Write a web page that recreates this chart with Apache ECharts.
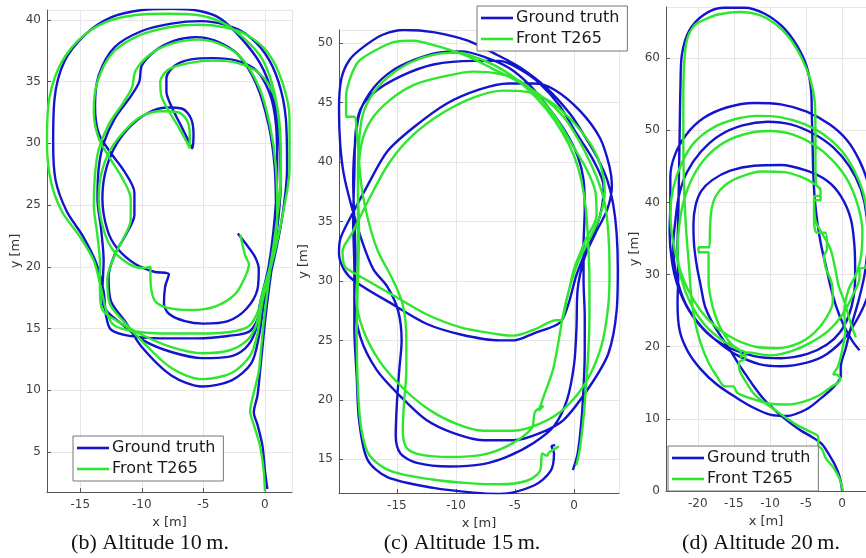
<!DOCTYPE html>
<html>
<head>
<meta charset="utf-8">
<script src="https://cdn.jsdelivr.net/npm/echarts@6/dist/echarts.min.js"></script>
<style>
  html, body { margin: 0; padding: 0; background: #fff; }
  #chart { width: 866px; height: 558px; }
</style>
</head>
<body>
<div id="chart"></div>
<script>
// legend names and captions
const seriesNames = ['Ground truth', 'Front T265'];
const captions = ['(b) Altitude 10\u2009m.', '(c) Altitude 15\u2009m.', '(d) Altitude 20\u2009m.'];

// (b) altitude 10 m, [x, y] in metres
const gtB = [
  [0.2,2.0],[0.0,3.5],[-0.2,5.5],[-0.6,7.2],[-0.9,8.2],[-0.6,9.6],[-0.4,11.5],[-0.2,13.5],[0.0,15.5],
  [0.3,18],[0.7,21],[1.1,24],[1.3,27],[1.1,31],[0.6,34],[-0.4,36.5],[-2,38.6],[-3.6,40.1],[-5.2,40.7],[-7.5,40.9],[-10,40.8],[-12.5,40.2],[-14.6,38.8],[-16.3,36.6],[-17.1,33.5],[-17.2,30],[-17,27],[-16.1,24.5],[-14.8,22.5],[-13.7,20.3],[-13.1,18],[-12.9,16],[-12.5,14.9],[-11,14.4],[-8.5,14.2],[-5.5,14.2],[-3,14.4],[-1.2,14.8],[-0.3,16.5],
  [0.6,20],[1.4,24],[1.8,28],[1.7,32],[1.1,35],[0,37.3],[-1.6,38.9],[-3.2,39.6],[-5.2,39.9],[-7.6,39.7],[-10,39.1],[-12.2,37.8],[-13.5,35.5],[-13.8,33],[-13.5,30.8],[-12.5,29.2],[-11.4,27.7],[-10.6,26],[-10.6,24.2],[-11.3,22.6],[-12.2,21],[-12.7,19.2],[-12.5,17.2],[-11.3,15.5],[-10,13.5],[-7.6,11.2],[-5.1,10.3],[-2.7,10.8],[-1.1,12.2],[-0.5,14.3],[-0.1,17],
  [0.5,20.5],[0.9,24],[0.8,28],[0.3,31.5],[-0.7,34.8],[-2.2,37.2],[-4,38.3],[-5.6,38.6],[-7.4,38.3],[-8.9,37.5],[-10,36.3],[-10.2,35],[-10.9,33.8],[-12.2,32],[-13.1,30],[-13.5,28],[-13.6,25.5],[-13.3,23],[-13.1,20.5],[-13.2,18],[-13.1,16.8],[-11.8,15.5],[-9.8,14],[-7.6,13.1],[-5.1,12.6],[-3,12.7],[-1.6,13.4],[-0.8,14.7],[-0.4,17],
  [0.3,20],[0.8,24],[1.0,28],[0.9,31.5],[0.4,34],[-0.7,35.9],[-2.3,36.7],[-4.2,36.9],[-6,36.8],[-7.3,36.3],[-8,35.3],[-8,34.2],[-7.6,33],[-6.9,31.6],[-6.2,30.2],[-5.9,29.6],[-5.8,30.7],[-6.0,32],[-6.7,32.8],[-8,32.9],[-9.6,32.4],[-11.1,31.2],[-12.3,29.5],[-13.0,27.5],[-13.2,25.5],
  [-12.8,23],[-12.0,21.5],[-10.5,20.2],[-9.0,19.6],[-7.8,19.4],[-8.1,18.4],[-8.2,17],[-7.8,16.2],[-6.5,15.6],[-5,15.4],[-3,15.6],[-1.5,16.6],[-0.6,18.2],[-0.5,19.8],[-0.8,20.8],[-1.5,21.8],[-2.2,22.7]
];
const ftB = [
  [0.0,1.8],[-0.1,3.5],[-0.4,5.5],[-0.9,7.2],[-1.2,8.3],[-0.9,9.8],[-0.5,11.5],[-0.3,13.5],[-0.1,15.5],
  [0.2,18],[0.6,21],[1.0,24],[1.3,27],[1.2,31],[0.8,34],[-0.2,36.8],[-1.8,38.6],[-3.5,39.8],[-5.5,40.4],[-8,40.5],[-10.5,40.4],[-13,39.8],[-15.2,38.3],[-16.8,36],[-17.6,33],[-17.7,30],[-17.4,27],[-16.5,24.5],[-15,22.4],[-13.9,20.5],[-13.3,18.2],[-12.9,16.5],[-12.3,15.3],[-10.8,14.8],[-8.5,14.6],[-5.5,14.6],[-3,14.7],[-1.3,15.2],[-0.4,16.8],
  [0.5,20],[1.4,24],[2.0,28],[2.0,32],[1.4,35],[0.2,37.4],[-1.5,38.8],[-3.3,39.4],[-5.4,39.6],[-7.8,39.4],[-10.3,38.7],[-12.4,37.3],[-13.6,35],[-13.9,32.6],[-13.5,30.4],[-12.6,28.8],[-11.6,27.2],[-10.9,25.5],[-10.9,23.8],[-11.5,22.3],[-12.3,20.7],[-12.8,19],[-12.6,17],[-11.5,15.6],[-10,14],[-7.6,11.8],[-5.1,10.9],[-2.7,11.4],[-1.2,12.8],[-0.6,14.6],[-0.2,17.2],
  [0.6,20.5],[1.0,24],[0.9,28],[0.4,31.5],[-0.5,34.6],[-2,37],[-3.8,38.1],[-5.5,38.4],[-7.5,38.1],[-9.2,37.3],[-10.5,35.9],[-10.8,34.5],[-11.5,33.3],[-12.7,31.5],[-13.5,29.5],[-13.8,27.5],[-13.9,25],[-13.6,22.5],[-13.4,20.3],[-13.4,18],[-13.2,16.5],[-12,15.6],[-10,14.5],[-7.6,13.5],[-5.1,13.0],[-3,13.2],[-1.5,14.0],[-0.7,15.3],[-0.3,17.5],
  [0.4,20],[1.0,24],[1.3,28],[1.2,31.5],[0.7,34],[-0.5,35.7],[-2.2,36.5],[-4.2,36.7],[-6.2,36.5],[-7.8,36],[-8.5,35],[-8.4,33.8],[-7.8,32.6],[-7,31.3],[-6.3,30],[-6.1,29.6],[-6.1,30.6],[-6.3,31.8],[-7.0,32.5],[-8.4,32.6],[-10,32.2],[-11.4,31],[-12.6,29.4],[-13.3,27.5],[-13.5,25.5],
  [-13.1,23],[-12.3,21.3],[-11,20.2],[-10,19.9],[-9.3,20],[-9.3,19.2],[-9.2,18],[-8.9,17.2],[-8,16.7],[-6,16.5],[-4,16.8],[-2.4,17.8],[-1.6,19.2],[-1.3,20.2],[-1.6,20.9],[-2.0,22.6]
];

// (c) altitude 15 m
const gtC = [
  [-0.1,14.1],[0.3,15.5],[0.6,18],[0.8,21],[0.9,24],[0.9,27],[0.8,30],[0.8,33],[0.9,36],[0.8,38.5],[0.3,40.5],[-0.7,42.5],[-2.2,44.6],[-3.8,46.5],[-5.5,47.9],[-7.5,48.8],[-9.5,49.3],[-11.5,49.2],[-13.5,48.6],[-15.5,47.6],[-17,46.2],[-18.1,44.3],[-18.5,42],[-18.7,38.5],[-18.6,35],[-18.5,32],[-18.6,28.5],
  [-18.1,25.3],[-16.7,22.5],[-14.7,20.3],[-12.5,18.3],[-10.2,17.2],[-7.7,16.6],[-5.1,16.6],[-2.9,17.2],[-0.9,18.3],[1.3,21.1],[2.9,23.9],[3.6,27.5],[3.7,31],[3.6,34],[3.3,36.5],[2.8,38.5],[2.0,40.3],[1.0,42],[-0.3,44],[-2.3,46.2],[-4.5,47.9],[-6.5,49],[-9,50.2],[-11.8,50.9],[-14.4,51.1],[-16.2,50.7],[-17.8,49.7],[-19,48.6],[-19.7,47],[-19.9,44.5],[-19.8,41.5],[-19.5,39],
  [-18.9,36.5],[-18.0,33.5],[-17.0,31],[-15.8,29.5],[-14.9,27.5],[-14.6,25],[-14.8,22.5],[-15.0,19.7],[-15.1,17],[-14.7,15.5],[-13.3,14.7],[-10.5,14.4],[-7.7,14.6],[-5.7,15.2],[-3.4,16.4],[-1.7,17.8],[-0.6,20],[0,23],[0.2,26],[0.3,29.3],[0.9,32],
  [1.8,34],[2.8,36],[3.2,38],[3.0,39.6],[2.2,42],[0.5,44.3],[-1.7,46.1],[-3.4,46.6],[-5.6,46.6],[-8,46.1],[-10.8,44.9],[-13.6,42.9],[-15.8,40.9],[-17.5,38],[-18.9,35.4],[-19.8,33.5],[-19.9,32.3],[-19.5,31],[-18.6,30.0],[-15.3,28],[-12.5,26.4],[-9.6,25.5],[-6.3,25],[-5.1,25],[-3.4,25.6],[-1.2,26.5],[-0.5,28],[0.2,30.5],[1.2,33],
  [2.2,35.5],[2.5,37.9],[1.6,40.2],[0.2,42.4],[-1.2,44.7],[-2.9,46.6],[-4.6,47.8],[-6.3,48.5],[-8.5,48.5],[-11.9,48.2],[-14.7,47.2],[-17,45.8],[-18.1,44.4],[-18.5,42.4],[-18.6,39],[-18.7,35],[-18.6,31],[-18.6,26],[-18.4,22],[-18.2,18.3],[-17.5,15],[-15.8,13.5],[-11.9,12.6],[-8.5,12.2],[-6.3,12.1],[-3.4,12.8],[-2.0,14.0],[-1.7,15.5],[-1.9,16.1],[-1.6,16.2]
];
const ftC = [
  [0.2,14.5],[0.5,16],[0.8,18.5],[1.0,21],[1.2,24],[1.3,27],[1.3,30],[1.2,33],[1.0,36],[0.6,38.5],[0,40.5],[-1,42.5],[-2.4,44.5],[-4,46.2],[-5.8,47.6],[-7.8,48.6],[-9.8,49.2],[-12,49.0],[-14,48.3],[-15.8,47.1],[-17.2,45.5],[-18.0,43.5],[-18.3,39],[-18.3,35],[-18.3,32],[-18.4,28.5],
  [-17.9,26],[-16.5,23.3],[-14.5,21],[-12.3,19.2],[-10,18],[-7.7,17.4],[-5.1,17.4],[-2.9,18],[-0.9,19.2],[1.0,21.5],[2.3,24.5],[2.9,28],[3.0,31],[2.9,34],[2.6,36.5],[2.0,38.5],[1.2,40.3],[0.3,42],[-0.9,43.8],[-2.7,45.5],[-4.8,46.8],[-7,47.9],[-9.3,49.0],[-11.8,49.8],[-13.6,50.2],[-15.2,50.1],[-16.8,49.4],[-18.2,48.5],[-18.9,47.2],[-19.3,45.5],[-19.3,43.8],[-18.6,43.8],[-18.4,42.5],
  [-18.0,38],[-17.4,35],[-16.6,32.5],[-15.4,30.2],[-14.5,28],[-14.2,25],[-14.2,22.5],[-14.4,19.7],[-14.5,17.5],[-14.2,16],[-13,15.4],[-10.5,15.2],[-7.7,15.4],[-5.5,16.2],[-3.6,17.6],[-3.3,19],[-2.6,19.5],[-3.0,19.1],[-2.5,20.5],[-1.8,22.5],[-1.3,25],[-1.0,26.8],[-0.5,29],[0.3,31.5],
  [1.3,33.5],[2.2,35.5],[2.6,37.5],[2.3,39.5],[1.4,41.5],[-0.4,43.7],[-2.2,45.2],[-4,45.9],[-6,46.0],[-8.3,45.5],[-11,44.2],[-13.6,42.3],[-15.6,40],[-17.3,37],[-18.8,34],[-19.6,32.5],[-19.4,31.2],[-18.5,30.6],[-15.5,28.9],[-12.5,27.2],[-9.6,26.1],[-6.3,25.5],[-5.1,25.4],[-3.4,25.9],[-1.5,26.7],[-1.1,26.7],[-0.6,28.5],[0,31],[1.0,33.5],
  [1.9,35.5],[1.8,37.5],[1.0,39.5],[-0.2,41.5],[-1.4,43.5],[-3.0,45.5],[-4.6,46.8],[-6.3,47.4],[-8.5,47.6],[-11,47.2],[-13.5,46.5],[-15.6,45.2],[-17.2,43.5],[-18.0,41.5],[-18.3,38],[-18.2,34],[-18.3,30],[-18.4,26],[-18.3,21],[-18.0,17.5],[-17.3,15.3],[-15.5,14.0],[-12,13.3],[-9,13.0],[-6.3,12.9],[-4,13.2],[-2.9,14.0],[-2.7,15.5],[-2.3,15.3],[-2.1,15.6],[-1.6,15.9],[-1.3,16.1]
];

// (d) altitude 20 m
const gtD = [
  [0.0,0.0],[-0.3,1.8],[-0.9,3.4],[-1.8,5.0],[-2.8,6.5],[-4.2,7.5],[-5.6,8.3],[-6.9,9.2],[-8.3,10.3],[-9.6,11.5],[-11.0,12.9],[-12.3,14.6],[-13.4,16.2],[-14.4,17.7],[-15.5,19.5],[-16.7,21.3],[-17.9,23.2],[-19.0,25.6],[-19.6,28.5],[-20.1,31.0],[-20.5,34.0],[-20.6,37.0],[-20.3,39.6],[-19.5,41.6],[-18.0,43.1],[-15.5,44.4],[-12.2,45.1],[-8.5,45.2],[-4.9,44.4],[-2.1,43.0],[-0.2,40.9],[1.2,37.7],[1.7,34.0],[1.8,30.0],
  [1.6,27.0],[0.9,24.3],[-0.3,22.0],[-2.1,20.3],[-4.8,19.0],[-8.5,18.4],[-12.2,18.7],[-15.9,20.0],[-18.8,22.0],[-21.2,25.0],[-22.8,28.5],[-23.6,32.0],[-23.9,36.0],[-23.8,40.0],[-23.8,43.5],[-23.2,46.5],
  [-21.6,49.4],[-19.2,51.7],[-15.9,53.2],[-12.2,53.8],[-8.5,53.6],[-4.9,52.6],[-1.7,50.8],[0.7,48.6],[2.4,45.8],[3.6,42.6],[4.3,39.0],[4.6,35.0],[4.4,31.0],[3.7,27.5],[2.4,24.4],[0.5,21.4],[-2.1,19.0],[-4.9,17.8],[-8.5,17.3],[-11.5,17.6],[-14.5,18.8],[-17.0,20.5],[-19.5,22.8],[-21.7,26.0],[-23.0,30.0],[-23.4,34.0],[-23.1,37.5],[-22.6,41.0],
  [-21.5,44.2],[-19.6,47.0],[-17.0,49.3],[-13.8,50.7],[-10.3,51.2],[-7.0,50.8],[-3.9,49.5],[-1.2,47.6],[1.0,45.0],[2.6,41.8],[3.4,38.0],[3.5,34.0],[3.1,30.0],[2.3,26.5],[1.3,23.0],[0.5,19.8],[-0.2,17.2],[-0.2,15.9],
  [-1.2,14.4],[-3.0,12.8],[-5.0,11.3],[-7.7,10.4],[-10.0,10.6],[-12.2,11.5],[-14.6,12.9],[-17.4,14.8],[-19.6,16.9],[-21.4,19.4],[-22.5,22.2],[-22.8,26.0],[-22.7,30.0],[-22.8,34.0],[-22.7,38.0],[-22.6,44.0],[-22.5,50.0],[-22.4,56.0],[-22.2,60.5],[-21.2,63.8],[-19.2,66.0],[-16.5,67.0],[-13.5,67.0],[-10.8,66.2],[-8.3,64.4],[-6.3,61.8],[-4.9,58.8],[-4.3,55.5],[-4.2,52.0],[-4.1,48.0],[-4.0,44.0],[-3.8,40.5],[-3.4,37.0],[-2.9,34.0],[-2.2,31.0],[-1.6,28.3],[-0.8,25.5],[0.2,23.0],[1.4,20.8],[2.4,19.5]
];
const ftD = [
  [0.1,0.0],[-0.4,1.8],[-1.2,3.2],[-2.3,4.6],[-2.8,5.8],[-3.3,6.3],[-3.3,7.5],[-4.6,8.3],[-6.0,9.0],[-7.6,10.0],[-9.4,11.3],[-11.0,12.4],[-12.4,13.7],[-13.3,15.1],[-14.2,16.7],[-14.3,17.8],[-13.4,18.4],[-13.5,19.3],[-14.5,19.6],[-15.7,20.8],[-16.8,22.5],[-17.6,24.4],[-18.2,26.7],[-18.5,29.0],[-18.5,31.2],[-18.5,33.1],[-19.9,33.1],[-19.9,33.8],[-18.4,33.8],[-18.3,36.5],[-18.1,39.0],[-17.5,40.9],[-16.1,42.5],[-14.0,43.6],[-11.2,44.3],[-8.0,44.2],[-5.6,43.5],[-3.9,42.6],[-3.0,41.6],[-3.0,40.3],[-3.9,40.3],[-3.9,37.5],[-3.5,35.8],[-2.3,35.8],[-2.1,33.5],[-2.5,32.6],[-2.3,31.0],
  [-1.4,28.6],[-1.3,26.2],[-2.2,24.0],[-3.8,22.0],[-6.0,20.5],[-9.0,19.8],[-12.0,20.0],[-14.8,21.0],[-17.3,22.6],[-19.6,25.0],[-21.4,28.0],[-22.7,31.5],[-23.5,35.0],[-23.8,38.5],[-23.4,42.0],[-22.2,45.5],
  [-20.5,48.3],[-18.0,50.3],[-15.0,51.5],[-11.8,52.0],[-8.5,51.8],[-5.3,50.9],[-2.5,49.4],[-0.1,47.2],[1.7,44.4],[2.9,41.4],[3.5,38.0],[3.6,34.5],[3.3,31.0],[2.4,30.8],[2.4,29.6],[1.4,27.0],[0.0,24.4],[-1.8,22.3],[-4.3,20.6],[-7.0,19.4],[-10.0,18.8],[-13.2,19.2],
  [-14.0,18.6],[-14.1,19.4],[-16.5,20.8],[-19.0,23.0],[-21.0,26.0],[-22.3,29.5],[-22.8,33.0],[-22.6,36.5],[-22.0,40.0],
  [-20.7,43.5],[-18.8,46.3],[-16.2,48.4],[-13.0,49.6],[-9.9,49.9],[-6.8,49.4],[-3.9,48.0],[-1.3,45.8],[0.8,43.0],[2.2,39.5],[2.8,36.0],[2.6,32.5],[1.9,30.0],[0.9,28.0],
  [0.3,25.0],[0.4,22.0],[0.0,19.5],[-0.6,17.2],[-1.2,16.2],[-0.6,16.1],[-0.3,15.4],[-1.6,14.4],[-3.3,13.2],[-5.3,12.4],[-7.6,12.0],[-10.0,12.1],[-12.2,12.7],[-14.5,13.6],[-15.1,14.5],[-16.2,14.5],[-17.3,15.8],[-18.6,18.0],[-19.6,20.5],[-20.4,23.5],[-20.9,27.0],[-21.2,31.0],
  [-21.6,36.0],[-21.9,42.0],[-22.0,48.0],[-22.0,54.0],[-21.9,59.0],[-21.5,62.5],[-20.5,64.5],[-19.2,65.3],[-17.0,66.1],[-14.0,66.4],[-11.5,66.0],[-9.3,64.8],[-7.3,62.8],[-5.6,60.0],[-4.4,57.0],[-3.8,54.0],[-3.7,50.0],[-3.7,46.0],[-3.6,42.5],[-3.0,41.8],[-3.0,41.0],[-3.9,40.8],[-3.7,37.5],[-2.6,35.4],[-1.6,33.5],[-1.0,31.0],[-0.5,28.5],[0.4,26.0],[1.1,23.5],[1.9,21.3]
];

const BLUE = '#1414cc';
const GREEN = '#2ee62e';
const FONT = '"DejaVu Sans", sans-serif';
const SERIF = '22px "Liberation Serif", serif';

const chart = echarts.init(document.getElementById('chart'));

function xAxisFor(idx, min, max) {
  return {
    gridIndex: idx, type: 'value', min: min, max: max,
    minInterval: 5, maxInterval: 5,
    name: 'x [m]', nameLocation: 'middle', nameGap: 22,
    nameTextStyle: { fontFamily: FONT, fontSize: 13, color: '#333' },
    axisLine: { show: true, onZero: false, lineStyle: { color: '#555', width: 1 } },
    axisTick: { show: true, inside: true, length: 4, lineStyle: { color: '#555' } },
    axisLabel: { fontFamily: FONT, fontSize: 12, color: '#404040', margin: 7, showMinLabel: false, showMaxLabel: false },
    splitLine: { show: true, lineStyle: { color: '#e6e6e6', width: 1 } }
  };
}
function yAxisFor(idx, min, max, step, gap, showMin) {
  return {
    gridIndex: idx, type: 'value', min: min, max: max,
    minInterval: step, maxInterval: step,
    name: 'y [m]', nameLocation: 'middle', nameGap: gap, nameRotate: 90,
    nameTextStyle: { fontFamily: FONT, fontSize: 13, color: '#333' },
    axisLine: { show: true, onZero: false, lineStyle: { color: '#555', width: 1 } },
    axisTick: { show: true, inside: true, length: 4, lineStyle: { color: '#555' } },
    axisLabel: { fontFamily: FONT, fontSize: 12, color: '#404040', margin: 6, showMinLabel: showMin, showMaxLabel: false },
    splitLine: { show: true, lineStyle: { color: '#e6e6e6', width: 1 } }
  };
}
function track(name, data, color, idx) {
  return {
    name: name, type: 'line', xAxisIndex: idx, yAxisIndex: idx,
    data: data, showSymbol: false, symbol: 'none', smooth: 0.3,
    lineStyle: { color: color, width: 2.4 }, itemStyle: { color: color },
    animation: false, clip: true
  };
}
function legendAt(left, top) {
  return {
    data: seriesNames, left: left, top: top, orient: 'vertical',
    icon: 'rect', itemWidth: 32, itemHeight: 2.6, itemGap: 5,
    padding: [4, 8, 4, 4],
    borderColor: '#777', borderWidth: 1, backgroundColor: '#fff',
    textStyle: { fontFamily: FONT, fontSize: 16, color: '#1a1a1a', padding: [0, 0, 0, -2] },
    selectedMode: false
  };
}

chart.setOption({
  backgroundColor: '#fff',
  animation: false,
  grid: [
    { left: 47, top: 10, width: 245, height: 482 },
    { left: 339, top: 30, width: 280, height: 463 },
    { left: 666, top: 7, width: 200, height: 484 }
  ],
  xAxis: [
    xAxisFor(0, -17.7, 2.2),
    xAxisFor(1, -19.9, 3.8),
    xAxisFor(2, -24.4, 3.3)
  ],
  yAxis: [
    yAxisFor(0, 1.76, 40.8, 5, 24, false),
    yAxisFor(1, 12.17, 51.1, 5, 29, false),
    yAxisFor(2, 0, 67.1, 10, 23, true)
  ],
  legend: [legendAt(73, 436), legendAt(477, 6), legendAt(668, 446)],
  series: [
    track(seriesNames[0], gtB, BLUE, 0),
    track(seriesNames[1], ftB, GREEN, 0),
    track(seriesNames[0], gtC, BLUE, 1),
    track(seriesNames[1], ftC, GREEN, 1),
    track(seriesNames[0], gtD, BLUE, 2),
    track(seriesNames[1], ftD, GREEN, 2)
  ],
  graphic: [
    { type: 'text', x: 150, y: 543, style: { text: captions[0], font: SERIF, fill: '#111', textAlign: 'center', textVerticalAlign: 'middle' } },
    { type: 'text', x: 462, y: 543, style: { text: captions[1], font: SERIF, fill: '#111', textAlign: 'center', textVerticalAlign: 'middle' } },
    { type: 'text', x: 761, y: 543, style: { text: captions[2], font: SERIF, fill: '#111', textAlign: 'center', textVerticalAlign: 'middle' } }
  ]
});
</script>
</body>
</html>
